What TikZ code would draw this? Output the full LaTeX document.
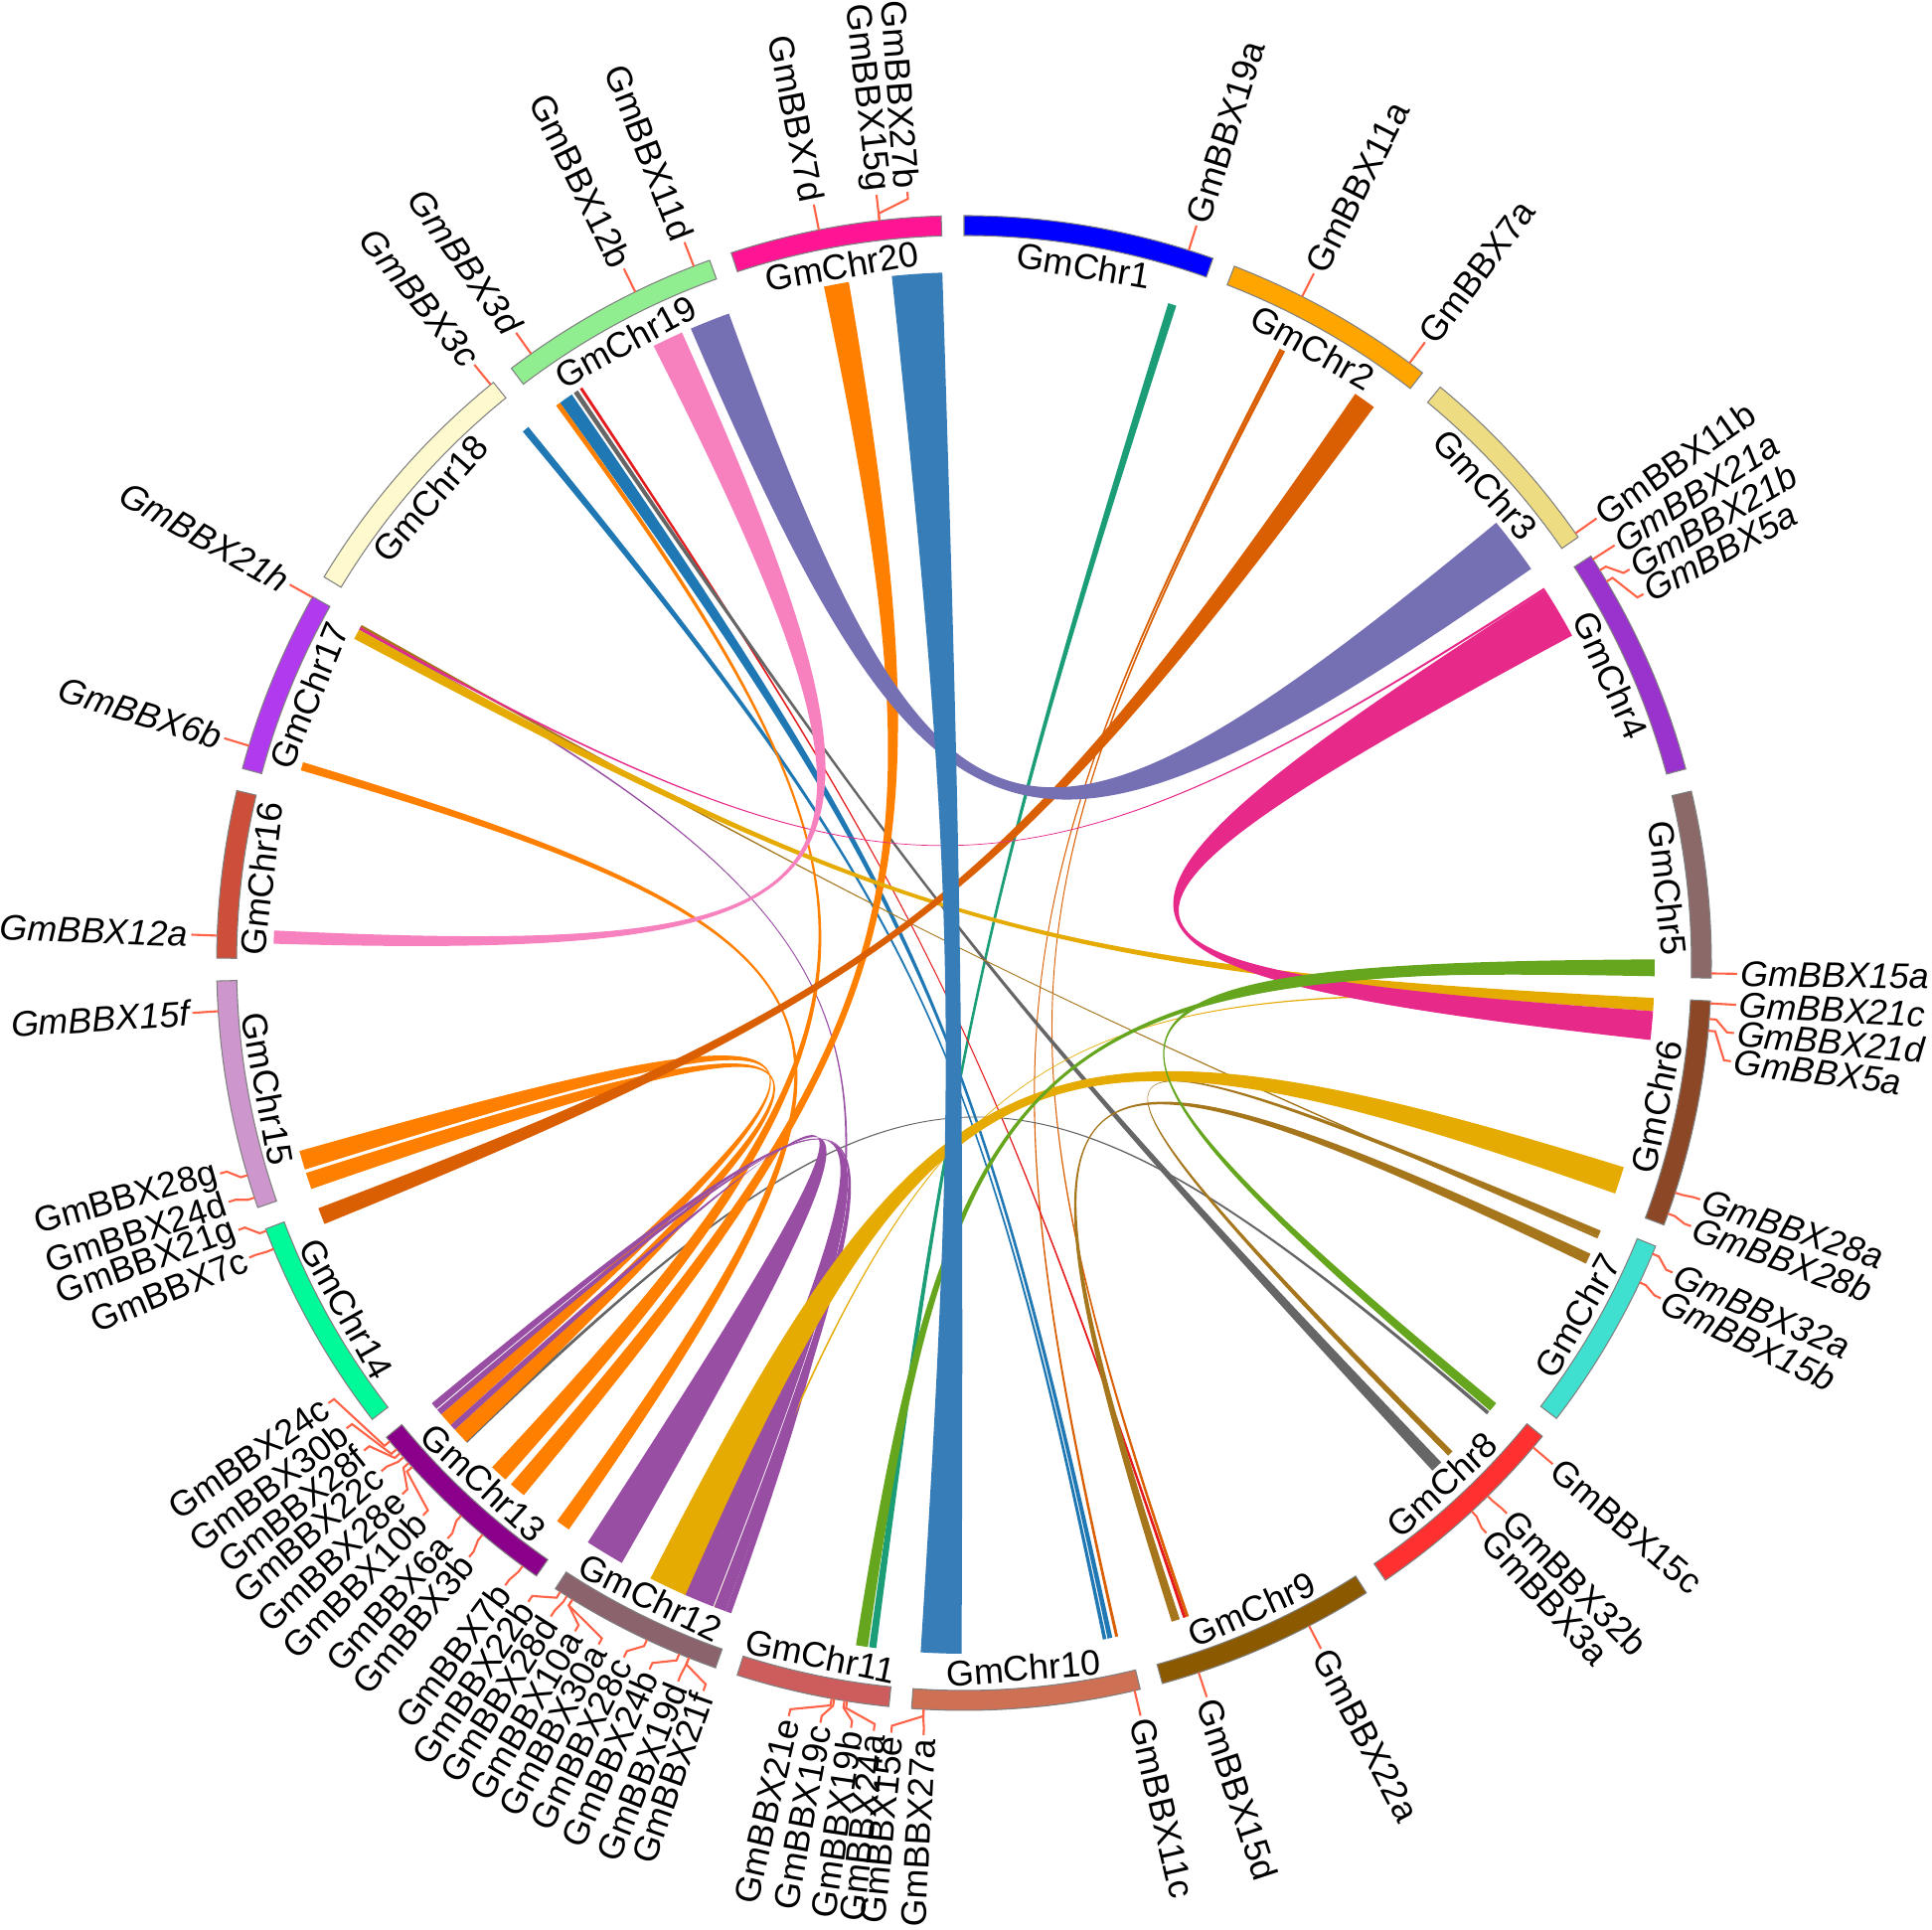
\documentclass[tikz,border=0pt]{standalone}
\usepackage{fontspec}
\setmainfont{Liberation Sans}
\usepackage{tikz}
\usetikzlibrary{positioning}
% chromosome colours
\definecolor{chr1}{HTML}{0000FF}
\definecolor{chr2}{HTML}{FFA500}
\definecolor{chr3}{HTML}{EEDC82}
\definecolor{chr4}{HTML}{9A32CD}
\definecolor{chr5}{HTML}{8B6969}
\definecolor{chr6}{HTML}{8B4726}
\definecolor{chr7}{HTML}{40E0D0}
\definecolor{chr8}{HTML}{FF3030}
\definecolor{chr9}{HTML}{8B5A00}
\definecolor{chr10}{HTML}{CD7054}
\definecolor{chr11}{HTML}{CD5C5C}
\definecolor{chr12}{HTML}{8B636C}
\definecolor{chr13}{HTML}{8B008B}
\definecolor{chr14}{HTML}{00FA9A}
\definecolor{chr15}{HTML}{CD96CD}
\definecolor{chr16}{HTML}{CD4F39}
\definecolor{chr17}{HTML}{B23AEE}
\definecolor{chr18}{HTML}{FFFACD}
\definecolor{chr19}{HTML}{90EE90}
\definecolor{chr20}{HTML}{FF1493}
% link colours
\definecolor{lorange}{HTML}{FF7F00}
\definecolor{lpurple}{HTML}{984EA3}
\definecolor{lsblue}{HTML}{377EB8}
\definecolor{lgreen}{HTML}{4DAF4A}
\definecolor{lpink}{HTML}{F781BF}
\definecolor{lred}{HTML}{E41A1C}
\definecolor{lteal}{HTML}{1B9E77}
\definecolor{ldorange}{HTML}{D95F02}
\definecolor{lslate}{HTML}{7570B3}
\definecolor{lmagenta}{HTML}{E7298A}
\definecolor{llime}{HTML}{66A61E}
\definecolor{lgold}{HTML}{E6AB02}
\definecolor{lbrown}{HTML}{A6761D}
\definecolor{lgray}{HTML}{666666}
\definecolor{lblue}{HTML}{1F78B4}
\definecolor{tickc}{HTML}{FF6347}
\newcommand{\gfont}{\fontsize{10.2}{12}\selectfont}
\tikzset{
  chrbox/.style={draw=gray,line width=0.3pt},
  chrname/.style={font=\gfont,inner sep=0pt},
  gene/.style={inner sep=0.8pt},
  tick/.style={draw=tickc,line width=0.6pt},
}
% link between [#2,#3] and [#4,#5], bearings in degrees
\newcommand{\lnk}[5]{%
  \fill[#1] ({90-#2}:695) arc[start angle={90-#2},end angle={90-#3},radius=695]
    .. controls ({90-#3}:76) and ({90-#4}:76) .. ({90-#4}:695)
    arc[start angle={90-#4},end angle={90-#5},radius=695]
    .. controls ({90-#5}:76) and ({90-#2}:76) .. cycle;}
% gene label: name, tick bearing, label bearing, shape, text
\newcommand{\bbx}[5]{%
  \ifdim #3pt<180pt \def\anc{west}\pgfmathsetmacro\rt{90-#3}%
  \else \def\anc{east}\pgfmathsetmacro\rt{270-#3}\fi
  \node[gene,font=\gfont#4,anchor=\anc,rotate=\rt] (#1) at ({90-#3}:778) {#5};
  \draw[tick] ({90-#2}:752) -- ({90-#2}:759) -- ({90-#3}:771) -- (#1.\anc);}

\begin{document}
\begin{tikzpicture}[x=0.1mm,y=0.1mm]
  \useasboundingbox (-970,-973) rectangle (974,969);
  % thin links
  \lnk{lteal}{17.2}{17.9}{187.3}{187.9}
  \lnk{ldorange}{27.2}{27.45}{167.1}{167.35}
  \lnk{ldorange}{27.45}{27.7}{161.0}{161.25}
  \lnk{lred}{161.25}{161.5}{326.2}{326.45}
  \lnk{lblue}{324.2}{325.4}{167.6}{168.0}
  \lnk{lblue}{320.3}{320.9}{168.1}{168.4}
  \lnk{lgray}{325.6}{326.0}{136.3}{137.3}
  \lnk{lgray}{130.5}{130.8}{226.0}{226.3}
  \lnk{lbrown}{112.8}{113.3}{135.0}{135.5}
  \lnk{lbrown}{114.9}{115.8}{161.8}{162.5}
  \lnk{lbrown}{113.3}{113.5}{299.05}{299.3}
  \lnk{lpurple}{199.7}{200.2}{298.85}{299.05}
  \lnk{lgold}{93.3}{93.5}{201.0}{201.2}
  % orange family
  \lnk{lorange}{348.3}{350.4}{219.6}{221.0}
  \lnk{lorange}{286.2}{286.9}{214.9}{216.1}
  \lnk{lorange}{323.8}{324.2}{221.6}{223.1}
  \lnk{lorange}{250.9}{252.3}{226.1}{227.5}
  \lnk{lorange}{252.6}{254.2}{228.0}{229.2}
  % purple family
  \lnk{lpurple}{209.7}{213.0}{227.5}{228.0}
  \lnk{lpurple}{201.3}{203.9}{229.2}{229.7}
  \lnk{lpurple}{200.2}{201.2}{229.8}{230.4}
  % gold, dark orange, magenta, lime
  \lnk{lgold}{107.2}{109.5}{203.8}{207.0}
  \lnk{lgold}{92.9}{94.0}{298.0}{298.85}
  \lnk{ldorange}{34.5}{36.4}{247.8}{249.2}
  \lnk{lmagenta}{57.3}{61.7}{94.0}{96.4}
  \lnk{lmagenta}{57.1}{57.3}{298.9}{299.1}
  \lnk{llime}{89.9}{90.9}{188.0}{189.0}
  \lnk{llime}{89.7}{91.1}{129.6}{130.4}
  % large bands
  \lnk{lslate}{336.7}{340.1}{50.4}{55.2}
  \lnk{lpink}{333.3}{335.9}{271.6}{272.7}
  \lnk{lsblue}{354.0}{358.2}{180.2}{183.6}
  % chromosomes
  \foreach \cn/\cs/\ce in {1/0/19.46,2/21.21/37.84,3/39.59/55.26,4/57.01/74.95,
      5/76.70/91.16,6/92.91/110.52,7/112.27/127.55,8/129.30/145.68,
      9/147.43/164.61,10/166.36/184.02,11/185.77/197.67,12/199.42/213.15,
      13/214.90/230.61,14/232.36/249.15,15/250.90/268.62,16/270.37/283.34,
      17/285.09/299.35,18/301.10/320.97,19/322.72/340.10,20/341.85/358.25}{
    \pgfmathsetmacro\md{(\cs+\ce)/2}
    \pgfmathsetmacro\rt{ifthenelse(and(\md>90,\md<270),180-\md,-\md)}
    \filldraw[chrbox,fill=chr\cn] ({90-\cs}:732) arc[start angle={90-\cs},end angle={90-\ce},radius=732]
      -- ({90-\ce}:752) arc[start angle={90-\ce},end angle={90-\cs},radius=752] -- cycle;
    \node[chrname,rotate=\rt] (chr\cn) at ({90-\md}:712) {GmChr\cn};
  }
  % gene labels
  \bbx{g19a}{17.5}{17.5}{}{GmBBX19a}
  \bbx{g11a}{26.9}{26.9}{}{GmBBX11a}
  \bbx{g7a}{36.6}{36.6}{}{GmBBX7a}
  \bbx{g11b}{54.9}{54.9}{}{GmBBX11b}
  \bbx{g21a}{57.3}{57.3}{\itshape}{GmBBX21a}
  \bbx{g21b}{58.3}{59.4}{\itshape}{GmBBX21b}
  \bbx{g5a}{59.3}{61.5}{\itshape}{GmBBX5a}
  \bbx{g15a}{90.8}{90.8}{\itshape}{GmBBX15a}
  \bbx{g21c}{93.1}{93.1}{\itshape}{GmBBX21c}
  \bbx{g21d}{94.3}{95.2}{\itshape}{GmBBX21d}
  \bbx{g5b}{95.2}{97.3}{\itshape}{GmBBX5a}
  \bbx{g28a}{107.9}{107.8}{\itshape}{GmBBX28a}
  \bbx{g28b}{109.6}{109.9}{\itshape}{GmBBX28b}
  \bbx{g32a}{112.9}{113.6}{\itshape}{GmBBX32a}
  \bbx{g15b}{115.3}{115.7}{\itshape}{GmBBX15b}
  \bbx{g15c}{130.4}{130.4}{}{GmBBX15c}
  \bbx{g32b}{135.5}{135.4}{}{GmBBX32b}
  \bbx{g3a}{137.2}{137.5}{}{GmBBX3a}
  \bbx{g22a}{152.5}{152.5}{}{GmBBX22a}
  \bbx{g15d}{161.7}{161.7}{}{GmBBX15d}
  \bbx{g11c}{166.8}{166.8}{}{GmBBX11c}
  \bbx{g27a}{183.1}{183.0}{}{GmBBX27a}
  \bbx{g15e}{183.1}{185.4}{}{GmBBX15e}
  \bbx{g24a}{189.0}{186.7}{}{GmBBX24a}
  \bbx{g19b}{189.2}{188.4}{}{GmBBX19b}
  \bbx{g19c}{190.0}{190.7}{}{GmBBX19c}
  \bbx{g21e}{190.2}{193.1}{}{GmBBX21e}
  \bbx{g21f}{201.6}{199.7}{}{GmBBX21f}
  \bbx{g19d}{201.6}{201.7}{}{GmBBX19d}
  \bbx{g24b}{202.4}{204.0}{}{GmBBX24b}
  \bbx{g28c}{205.1}{206.1}{}{GmBBX28c}
  \bbx{g30a}{211.6}{208.2}{}{GmBBX30a}
  \bbx{g10a}{211.6}{210.2}{}{GmBBX10a}
  \bbx{g28d}{212.1}{212.3}{}{GmBBX28d}
  \bbx{g22b}{212.7}{214.3}{}{GmBBX22b}
  \bbx{g7b}{216.2}{216.4}{}{GmBBX7b}
  \bbx{g3b}{220.1}{219.8}{}{GmBBX3b}
  \bbx{g6a}{222.3}{221.9}{}{GmBBX6a}
  \bbx{g10b}{227.6}{224.4}{}{GmBBX10b}
  \bbx{g28e}{228.0}{226.6}{}{GmBBX28e}
  \bbx{g22c}{228.6}{228.9}{}{GmBBX22c}
  \bbx{g28f}{229.0}{230.9}{}{GmBBX28f}
  \bbx{g30b}{229.4}{233.0}{}{GmBBX30b}
  \bbx{g24c}{230.2}{235.3}{}{GmBBX24c}
  \bbx{g7c}{247.5}{247.6}{}{GmBBX7c}
  \bbx{g21g}{249.0}{249.8}{}{GmBBX21g}
  \bbx{g24d}{251.7}{252.0}{}{GmBBX24d}
  \bbx{g28g}{253.5}{254.2}{}{GmBBX28g}
  \bbx{g15f}{266.3}{266.3}{\itshape}{GmBBX15f}
  \bbx{g12a}{272.1}{272.1}{\itshape}{GmBBX12a}
  \bbx{g6b}{286.9}{286.9}{\itshape}{GmBBX6b}
  \bbx{g21h}{299.3}{299.3}{\itshape}{GmBBX21h}
  \bbx{g3c}{320.7}{320.7}{\itshape}{GmBBX3c}
  \bbx{g3d}{324.6}{324.6}{\itshape}{GmBBX3d}
  \bbx{g12b}{333.9}{333.9}{}{GmBBX12b}
  \bbx{g11d}{338.8}{338.8}{}{GmBBX11d}
  \bbx{g7d}{348.8}{348.8}{}{GmBBX7d}
  \bbx{g15g}{353.5}{353.5}{}{GmBBX15g}
  \bbx{g27b}{353.5}{355.8}{}{GmBBX27b}
\end{tikzpicture}
\end{document}
